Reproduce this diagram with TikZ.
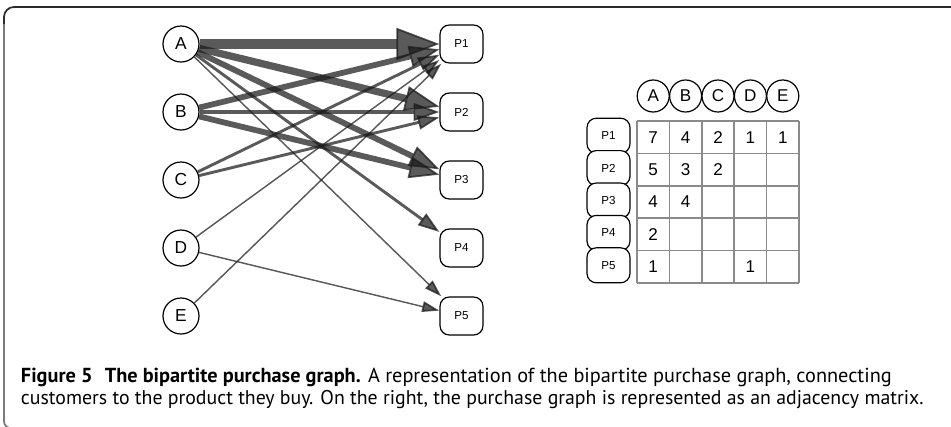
\documentclass[tikz,border=0pt]{standalone}
\usepackage{fontspec}
\setmainfont{Liberation Sans}
\newfontfamily\capfont{PT Sans}
\usetikzlibrary{arrows.meta}
\definecolor{edgecol}{HTML}{1A1A1A}
\definecolor{gridcol}{HTML}{8A8A8A}
\definecolor{framedark}{HTML}{2B2B2B}
\definecolor{framegray}{HTML}{7A7A7A}
\tikzset{
  cust/.style={circle, draw=black, fill=white, line width=0.9pt, minimum size=27pt, inner sep=0pt, font=\fontsize{13}{13}\selectfont},
  prod/.style={rectangle, rounded corners=7pt, draw=black, fill=white, line width=0.9pt, minimum width=32.25pt, minimum height=28.5pt, inner sep=0pt, font=\fontsize{8.7}{9}\selectfont},
  hcust/.style={circle, draw=black, fill=white, line width=0.9pt, minimum size=24pt, inner sep=0pt, font=\fontsize{12.8}{13}\selectfont},
  rprod/.style={rectangle, rounded corners=7pt, draw=black, fill=white, line width=0.9pt, minimum width=32.25pt, minimum height=26.25pt, inner sep=0pt, font=\fontsize{8.7}{9}\selectfont},
  cellnum/.style={inner sep=0pt, font=\fontsize{12.8}{13}\selectfont},
  gridline/.style={draw=gridcol, line width=1.1pt},
  edgeline/.style={draw=edgecol, opacity=0.72},
  captxt/.style={anchor=base west, inner sep=0pt, font=\capfont},
}
\newcommand\pedge[3]{%
  \pgfmathsetmacro\elw{1.45*#3*0.75}%
  \pgfmathsetmacro\eal{(13+4.3*#3)*0.75}%
  \pgfmathsetmacro\eaw{(7+3.6*#3)*0.75}%
  \draw[edgeline, line width=\elw pt, -{Triangle[length=\eal pt, width=\eaw pt, line width=1.3pt]}] (#1) -- (#2);%
}
\begin{document}
\begin{tikzpicture}[x=0.75pt, y=-0.75pt]
\useasboundingbox (0,0) rectangle (951,426);
% frame
\draw[framegray, line width=1.3pt, rounded corners=5pt] (4,20) |- (20,428);
\draw[framedark, line width=1.3pt, rounded corners=7.5pt] (4,24) |- (951,7);
% graph nodes
\node[cust] (A) at (181,44) {A};
\node[cust] (B) at (181,112) {B};
\node[cust] (C) at (181,180) {C};
\node[cust] (D) at (181,248) {D};
\node[cust] (E) at (181,316) {E};
\node[prod] (P1) at (461.5,44) {P1};
\node[prod] (P2) at (461.5,112) {P2};
\node[prod] (P3) at (461.5,180) {P3};
\node[prod] (P4) at (461.5,248) {P4};
\node[prod] (P5) at (461.5,316) {P5};
% edges
\pedge{A}{P1}{7}
\pedge{A}{P2}{5}
\pedge{A}{P3}{4}
\pedge{A}{P4}{2}
\pedge{A}{P5}{1}
\pedge{B}{P1}{4}
\pedge{B}{P2}{3}
\pedge{B}{P3}{4}
\pedge{C}{P1}{2}
\pedge{C}{P2}{2}
\pedge{D}{P1}{1}
\pedge{D}{P5}{1}
\pedge{E}{P1}{1}
% adjacency matrix grid
\foreach \i in {0,...,5} {
  \draw[gridline] ({637+32.4*\i},121) -- ({637+32.4*\i},283);
  \draw[gridline] (637,{121+32.4*\i}) -- (799,{121+32.4*\i});
}
\node[hcust] (hA) at (653.2,96) {A};
\node[hcust] (hB) at (685.6,96) {B};
\node[hcust] (hC) at (718.0,96) {C};
\node[hcust] (hD) at (750.4,96) {D};
\node[hcust] (hE) at (782.8,96) {E};
\node[rprod] (r1) at (608.5,135.7) {P1};
\node[rprod] (r2) at (608.5,168.1) {P2};
\node[rprod] (r3) at (608.5,200.5) {P3};
\node[rprod] (r4) at (608.5,232.9) {P4};
\node[rprod] (r5) at (608.5,265.3) {P5};
% cell values
\node[cellnum] (m11) at (653.2,137.2) {7};
\node[cellnum] (m12) at (685.6,137.2) {4};
\node[cellnum] (m13) at (718.0,137.2) {2};
\node[cellnum] (m14) at (750.4,137.2) {1};
\node[cellnum] (m15) at (782.8,137.2) {1};
\node[cellnum] (m21) at (653.2,169.6) {5};
\node[cellnum] (m22) at (685.6,169.6) {3};
\node[cellnum] (m23) at (718.0,169.6) {2};
\node[cellnum] (m31) at (653.2,202.0) {4};
\node[cellnum] (m32) at (685.6,202.0) {4};
\node[cellnum] (m41) at (653.2,234.4) {2};
\node[cellnum] (m51) at (653.2,266.8) {1};
\node[cellnum] (m54) at (750.4,266.8) {1};
% caption
\node[captxt] (cap1) at (20.7,382) {\resizebox{653pt}{!}{\textbf{Figure 5\hspace{0.6em}The bipartite purchase graph.} A representation of the bipartite purchase graph, connecting}};
\node[captxt] (cap2) at (20.7,404) {\resizebox{677pt}{!}{customers to the product they buy. On the right, the purchase graph is represented as an adjacency matrix.}};
\end{tikzpicture}
\end{document}
